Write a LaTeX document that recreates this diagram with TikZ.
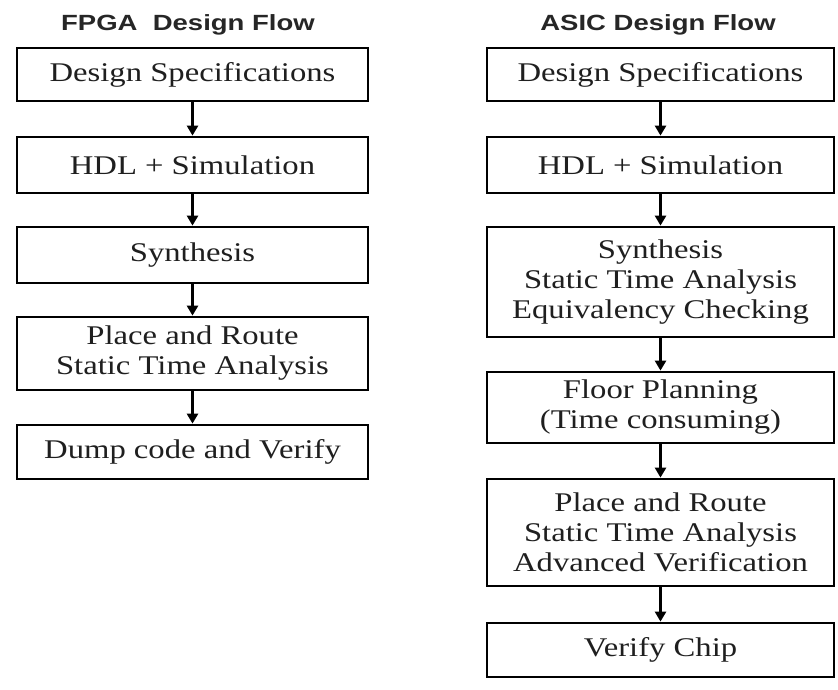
\documentclass[tikz,border=0pt]{standalone}
\usepackage{fontspec}
\setmainfont{Liberation Serif}
\newfontfamily\boxfont[FakeStretch=1.21]{Liberation Serif}
\newfontfamily\titlefont[FakeStretch=1.25]{Liberation Sans}
\usetikzlibrary{arrows.meta}
\begin{document}
\begin{tikzpicture}[x=1pt,y=-1pt,
  stage/.style={draw=black, line width=2.8pt, fill=white, align=center, inner sep=0pt,
    text=black!88, font=\boxfont\fontsize{27}{30}\selectfont},
  fcol/.style={stage, minimum width=351pt},
  acol/.style={stage, minimum width=347pt},
  title/.style={font=\titlefont\bfseries\fontsize{22}{25}\selectfont, text=black!85},
  flow/.style={line width=2.8pt, -{Triangle[width=11pt,length=10pt]}}]
\useasboundingbox (0,0) rectangle (838,689);
% titles
\node[title] (ft) at (188,25) {FPGA\ \ Design Flow};
\node[title] (at) at (658,25) {ASIC Design Flow};
% FPGA column
\node[fcol, minimum height=53pt] (f1) at (192.5,74.5) {Design Specifications};
\node[fcol, minimum height=56pt] (f2) at (192.5,165) {HDL + Simulation};
\node[fcol, minimum height=56pt] (f3) at (192.5,255) {Synthesis};
\node[fcol, minimum height=73pt] (f4) at (192.5,353.5) {Place and Route\\Static Time Analysis};
\node[fcol, minimum height=54pt] (f5) at (192.5,452) {Dump code and Verify};
% ASIC column
\node[acol, minimum height=53pt] (a1) at (660.5,74.5) {Design Specifications};
\node[acol, minimum height=56pt] (a2) at (660.5,165) {HDL + Simulation};
\node[acol, minimum height=110pt] (a3) at (660.5,282) {Synthesis\\Static Time Analysis\\Equivalency Checking};
\node[acol, minimum height=71pt] (a4) at (660.5,407.5) {Floor Planning\\(Time consuming)};
\node[acol, minimum height=107pt] (a5) at (660.5,532.5) {Place and Route\\Static Time Analysis\\Advanced Verification};
\node[acol, minimum height=54pt] (a6) at (660.5,650) {Verify Chip};
% connectors
\draw[flow] (f1) -- (f2);
\draw[flow] (f2) -- (f3);
\draw[flow] (f3) -- (f4);
\draw[flow] (f4) -- (f5);
\draw[flow] (a1) -- (a2);
\draw[flow] (a2) -- (a3);
\draw[flow] (a3) -- (a4);
\draw[flow] (a4) -- (a5);
\draw[flow] (a5) -- (a6);
\end{tikzpicture}
\end{document}
